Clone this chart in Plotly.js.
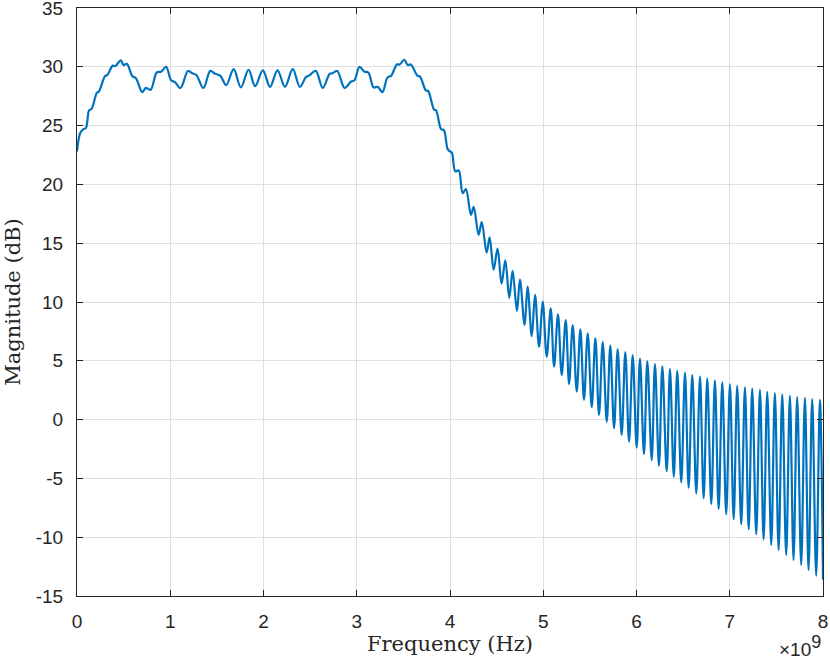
<!DOCTYPE html>
<html>
<head>
<meta charset="utf-8">
<script src="https://cdn.plot.ly/plotly-3.0.1.min.js"></script>
<style>
html,body{margin:0;padding:0;background:#fff;}
#chart{width:830px;height:672px;}
</style>
</head>
<body>
<div id="chart"></div>
<script>
// Frequency in units of 1e9 Hz (axis multiplier shown as x10^9)
const freqE9 = [
0.000,0.036,0.070,0.096,0.130,0.155,0.214,0.235,0.300,0.325,0.384,0.410,0.470,0.498,0.534,0.594,0.630,0.700,0.737,0.790,
0.854,0.904,0.955,1.010,1.050,1.110,1.190,1.235,1.280,1.355,1.430,1.480,1.536,1.600,1.680,1.757,1.840,1.910,1.993,2.070,
2.150,2.230,2.314,2.390,2.457,2.490,2.560,2.635,2.710,2.740,2.790,2.870,2.940,2.975,3.030,3.080,3.125,3.180,3.225,3.275,
3.330,3.370,3.430,3.460,3.510,3.546,3.580,3.650,3.680,3.740,3.765,3.830,3.850,3.905,3.935,3.975,4.000,4.020,4.057,4.093,
4.136,4.170,4.225,4.254,4.307,4.340,4.393,4.425,4.468,4.510,4.553,4.593,4.636,4.671,4.718,4.750,4.800,4.832,4.877,4.912,
4.955,4.994,5.037,5.080,5.116,5.158,5.198,5.241,5.277,5.316,5.359,5.398,5.437,5.477,5.520,5.559,5.598,5.638,5.681,5.719,
5.759,5.798,5.841,5.880,5.920,5.959,6.002,6.037,6.080,6.116,6.163,6.198,6.241,6.277,6.324,6.359,6.400,6.437,6.480,6.520,
6.559,6.598,6.641,6.681,6.720,6.759,6.802,6.841,6.881,6.920,6.962,7.002,7.042,7.080,7.123,7.163,7.203,7.241,7.284,7.324,
7.363,7.402,7.445,7.484,7.524,7.563,7.605,7.645,7.684,7.723,7.766,7.806,7.845,7.884,7.927,7.967,8.000
];
const magnitudeDb = [
22.8,24.4,24.7,24.8,26.3,26.4,27.8,27.9,29.2,29.3,30.1,30.05,30.55,30.15,30.25,29.2,29.05,27.85,28.2,28.05,
29.5,29.6,30.0,28.85,28.7,28.2,29.65,29.45,29.3,28.2,29.65,29.4,29.25,28.45,29.8,28.25,29.75,28.35,29.7,28.3,
29.7,28.3,29.8,28.3,29.15,29.25,29.65,28.2,29.4,29.45,29.65,28.2,28.75,28.85,30.0,29.6,29.5,28.25,28.3,27.85,
29.1,29.25,30.2,30.2,30.6,30.15,30.2,29.25,29.15,28.0,27.95,26.35,26.3,24.7,24.6,23.0,22.8,22.7,21.1,21.2,
19.25,19.6,17.4,18.1,15.7,16.8,14.2,15.5,12.75,14.55,11.55,13.55,10.35,12.65,9.25,11.9,8.05,11.3,7.1,10.6,
6.2,10.03,5.35,9.46,4.5,8.95,3.79,8.47,3.03,8.04,2.38,7.67,1.67,7.33,1.05,6.94,0.39,6.6,-0.18,6.32,
-0.74,6.0,-1.31,5.75,-1.88,5.49,-2.39,5.18,-2.93,4.96,-3.44,4.73,-3.92,4.53,-4.4,4.3,-4.85,4.15,-5.33,3.99,
-5.79,3.79,-6.27,3.65,-6.69,3.48,-7.18,3.31,-7.6,3.17,-8.05,3.0,-8.48,2.88,-8.9,2.75,-9.33,2.63,-9.75,2.52,
-10.18,2.37,-10.66,2.26,-11.09,2.15,-11.51,2.03,-11.94,1.92,-12.36,1.86,-12.79,1.75,-13.27,1.67,-13.6
];
const xTickVals = [0,1,2,3,4,5,6,7,8];
const xTickText = ['0','1','2','3','4','5','6','7','8'];
const yTickVals = [-15,-10,-5,0,5,10,15,20,25,30,35];
const yTickText = ['-15','-10','-5','0','5','10','15','20','25','30','35'];
const xTitle = 'Frequency (Hz)';
const yTitle = 'Magnitude (dB)';
const xMultiplier = '×10<sup><span style="font-size:18px">9</span></sup>';

const axisColor = '#262626';
const tickFont = {family: 'Liberation Sans, Arial, sans-serif', size: 19, color: axisColor};
const titleFont = {family: 'DejaVu Serif, serif', size: 21, color: axisColor};

const trace = {
  x: freqE9, y: magnitudeDb, type: 'scatter', mode: 'lines',
  line: {color: '#0072BD', width: 2.2, shape: 'spline', smoothing: 1},
  hoverinfo: 'skip'
};

const layout = {
  width: 830, height: 672,
  margin: {l: 77, r: 7, t: 8, b: 76, pad: 0},
  paper_bgcolor: '#ffffff', plot_bgcolor: '#ffffff',
  showlegend: false,
  xaxis: {
    range: [0, 8], tickvals: xTickVals, ticktext: xTickText,
    showgrid: true, gridcolor: '#dfdfdf', gridwidth: 1,
    zeroline: false, showline: true, linecolor: axisColor, linewidth: 1, mirror: 'allticks',
    ticks: 'inside', ticklen: 6, tickcolor: axisColor, tickwidth: 1,
    tickfont: tickFont, ticklabelstandoff: 8, ticklabeloverflow: 'allow',
    title: {text: xTitle, font: titleFont, standoff: 4}
  },
  yaxis: {
    range: [-15, 35], tickvals: yTickVals, ticktext: yTickText,
    showgrid: true, gridcolor: '#dfdfdf', gridwidth: 1,
    zeroline: false, showline: true, linecolor: axisColor, linewidth: 1, mirror: 'allticks',
    ticks: 'inside', ticklen: 6, tickcolor: axisColor, tickwidth: 1,
    tickfont: tickFont, ticklabelstandoff: 9, ticklabeloverflow: 'allow',
    title: {text: yTitle, font: titleFont, standoff: 9}
  },
  annotations: [{
    text: xMultiplier, xref: 'paper', yref: 'paper', x: 1.0, y: -0.058,
    xanchor: 'right', yanchor: 'top', showarrow: false,
    font: {family: 'Liberation Sans, Arial, sans-serif', size: 19, color: axisColor}
  }]
};

Plotly.newPlot('chart', [trace], layout, {displayModeBar: false, staticPlot: true});
</script>
</body>
</html>
